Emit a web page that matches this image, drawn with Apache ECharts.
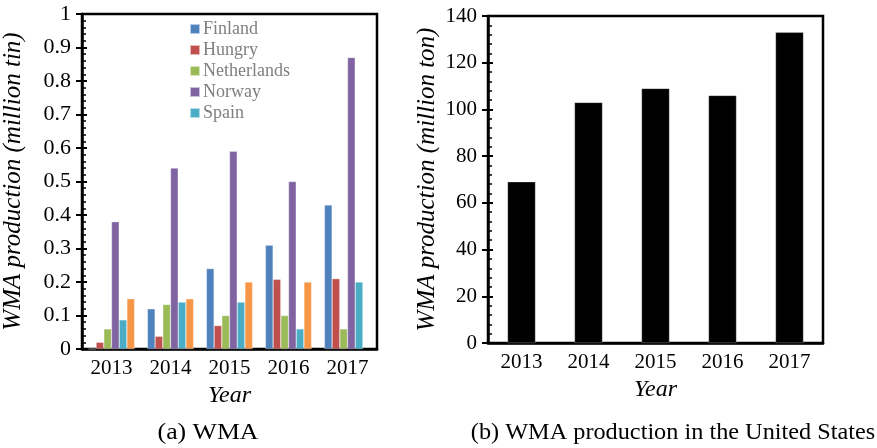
<!DOCTYPE html>
<html>
<head>
<meta charset="utf-8">
<script src="https://cdn.jsdelivr.net/npm/echarts@6/dist/echarts.min.js"></script>
<style>
  html, body { margin: 0; padding: 0; background: #fff; }
  #chart { width: 877px; height: 448px; }
</style>
</head>
<body>
<div id="chart"></div>
<script>
// Years shared by both panels
const years = ['2013', '2014', '2015', '2016', '2017'];

// Panel (a): WMA production by country (million tin)
const finland     = [0,     0.12,  0.24, 0.31,  0.43];
const hungry      = [0.02,  0.038, 0.07, 0.208, 0.21];
const netherlands = [0.06,  0.133, 0.10, 0.10,  0.06];
const norway      = [0.38,  0.54,  0.59, 0.50,  0.87];
const spain       = [0.087, 0.14,  0.14, 0.06,  0.20];
const sixth       = [0.15,  0.15,  0.20, 0.20,  null];

// Panel (b): WMA production in the United States (million ton)
const usProduction = [69, 103, 109, 106, 133];

const FONT = '"Liberation Serif", "Times New Roman", Times, serif';

const countrySeries = [
  { name: 'Finland',     data: finland,     color: '#4f81bd' },
  { name: 'Hungry',      data: hungry,      color: '#c0504d' },
  { name: 'Netherlands', data: netherlands, color: '#9bbb59' },
  { name: 'Norway',      data: norway,      color: '#8064a2' },
  { name: 'Spain',       data: spain,       color: '#4bacc6' },
  { name: 'Series 6',    data: sixth,       color: '#f79646' }
];

function valueAxis(grid, min, max, interval, name, nameGap, labelSize) {
  return [
    {
      type: 'value', gridIndex: grid, position: 'left',
      min: min, max: max, interval: interval,
      name: name, nameLocation: 'middle', nameRotate: 90, nameGap: nameGap,
      nameTextStyle: { fontFamily: FONT, fontStyle: 'italic', fontSize: 25, color: '#000' },
      axisLine: { show: true, lineStyle: { color: '#000', width: 2.5 } },
      axisTick: { show: true, inside: false, length: 6, lineStyle: { color: '#000', width: 2 } },
      axisLabel: { fontFamily: FONT, fontSize: labelSize, color: '#000', margin: 11 },
      splitLine: { show: false }
    },
    {
      // inner ticks with minor subdivisions, sharing the same scale
      type: 'value', gridIndex: grid, position: 'left',
      min: min, max: max, interval: interval,
      axisLine: { show: false },
      axisLabel: { show: false },
      axisTick: { show: true, inside: true, length: 5, lineStyle: { color: '#000', width: 2 } },
      minorTick: { show: true, splitNumber: 5, length: 4, lineStyle: { color: '#000', width: 1.5 } },
      splitLine: { show: false },
      minorSplitLine: { show: false }
    }
  ];
}

function categoryAxis(grid, nameGap) {
  return {
    type: 'category', gridIndex: grid, data: years,
    name: 'Year', nameLocation: 'middle', nameGap: nameGap,
    nameTextStyle: { fontFamily: FONT, fontStyle: 'italic', fontSize: 24, color: '#000' },
    axisLine: { show: true, lineStyle: { color: '#000', width: 2.5 } },
    axisTick: { show: false },
    axisLabel: { fontFamily: FONT, fontSize: 21, color: '#000', margin: 9 }
  };
}

const chart = echarts.init(document.getElementById('chart'), null, { renderer: 'canvas' });

const option = {
  animation: false,
  backgroundColor: '#fff',
  grid: [
    { left: 82, top: 14, width: 295, height: 335, show: true, borderColor: '#000', borderWidth: 2.5, backgroundColor: 'transparent' },
    { left: 488, top: 16, width: 335, height: 327, show: true, borderColor: '#000', borderWidth: 2.5, backgroundColor: 'transparent' }
  ],
  xAxis: [categoryAxis(0, 32), categoryAxis(1, 27)],
  yAxis: valueAxis(0, 0, 1, 0.1, 'WMA production (million tin)', 56, 22)
    .concat(valueAxis(1, 0, 140, 20, 'WMA production (million ton)', 48, 21)),
  legend: {
    orient: 'vertical',
    left: 184, top: 15,
    itemWidth: 10, itemHeight: 10, itemGap: 3,
    icon: 'rect',
    data: ['Finland', 'Hungry', 'Netherlands', 'Norway', 'Spain'],
    textStyle: { fontFamily: FONT, fontSize: 18, color: '#7f7f7f', lineHeight: 18, padding: [0, 0, 0, -2] }
  },
  series: countrySeries.map(s => ({
    type: 'bar', name: s.name, data: s.data,
    xAxisIndex: 0, yAxisIndex: 0,
    barWidth: 7.7, barGap: '0%',
    itemStyle: { color: s.color, borderColor: 'rgba(255,255,255,0.6)', borderWidth: 0.5 }
  })).concat([{
    type: 'bar', name: 'United States', data: usProduction,
    xAxisIndex: 1, yAxisIndex: 2,
    barWidth: 28,
    itemStyle: { color: '#000', borderColor: 'rgba(255,255,255,0.5)', borderWidth: 0.5 }
  }]),
  graphic: [
    {
      type: 'text', x: 208, y: 433, scaleX: 1.12,
      style: { text: '(a) WMA', fontFamily: FONT, fontSize: 23, fill: '#000', align: 'center', verticalAlign: 'middle' }
    },
    {
      type: 'text', x: 673, y: 433, scaleX: 1.055,
      style: { text: '(b) WMA production in the United States', fontFamily: FONT, fontSize: 23, fill: '#000', align: 'center', verticalAlign: 'middle' }
    }
  ]
};

chart.setOption(option);
</script>
</body>
</html>
